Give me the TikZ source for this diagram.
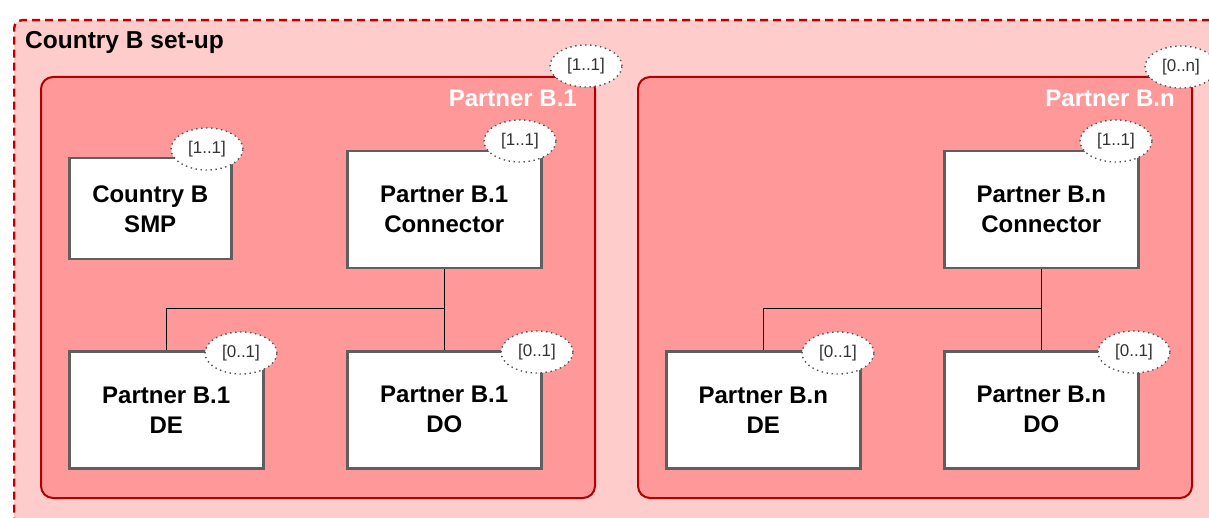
\documentclass[tikz,border=0pt]{standalone}
\usepackage{fontspec}
\setmainfont{Liberation Sans}
\usetikzlibrary{shapes.geometric}
\definecolor{outerfill}{HTML}{FFCCCC}
\definecolor{partnerfill}{HTML}{FF9999}
\definecolor{darkred}{HTML}{B20000}
\definecolor{dashred}{HTML}{C00000}
\definecolor{boxline}{HTML}{5F5F5F}
\definecolor{multtext}{HTML}{333333}
\definecolor{multline}{HTML}{555555}
\begin{document}
\begin{tikzpicture}[x=1pt,y=-1pt,
  outerbox/.style={draw=dashred, fill=outerfill, line width=2.4pt, dash pattern=on 8pt off 5pt, rounded corners=8pt, anchor=north west, inner sep=0pt},
  partner/.style={draw=darkred, fill=partnerfill, line width=2pt, rounded corners=12pt, anchor=north west, inner sep=0pt},
  plabel/.style={text=white, font=\fontsize{24}{28}\selectfont\bfseries, anchor=base east, inner sep=0pt},
  titlelabel/.style={text=black, font=\fontsize{24.5}{28}\selectfont\bfseries, anchor=base west, inner sep=0pt},
  itembox/.style={draw=boxline, fill=white, line width=2.5pt, anchor=north west, align=center, inner sep=0pt, font=\fontsize{24}{30}\selectfont\bfseries},
  mult/.style={ellipse, draw=multline, fill=white, line width=1.4pt, dash pattern=on 1.4pt off 3.6pt, minimum width=72pt, minimum height=42pt, inner sep=0pt, text=multtext, font=\fontsize{17}{20}\selectfont},
  wire/.style={draw=black, line width=1.2pt}
]
\useasboundingbox (0,0) rectangle (1209,518);
\clip (0,0) rectangle (1209,518);
% outer container
\node[outerbox, minimum width=1230pt, minimum height=540pt] (setup) at (13,19) {};
\node[titlelabel] (title) at (25,49) {Country B set-up};
% partner containers
\node[partner, minimum width=554pt, minimum height=421pt] (p1) at (40,76) {};
\node[plabel] (p1label) at (577,107) {Partner B.1};
\node[partner, minimum width=554pt, minimum height=421pt] (pn) at (637,76) {};
\node[plabel] (pnlabel) at (1175,107) {Partner B.n};
% items partner B.1
\node[itembox, minimum width=162pt, minimum height=101pt] (smp) at (68,157) {Country B\\SMP};
\node[itembox, minimum width=194pt, minimum height=117pt] (conn1) at (346,150) {Partner B.1\\Connector};
\node[itembox, minimum width=194pt, minimum height=117pt] (de1) at (68,350) {Partner B.1\\DE};
\node[itembox, minimum width=194pt, minimum height=117pt] (do1) at (346,350) {Partner B.1\\DO};
% items partner B.n
\node[itembox, minimum width=194pt, minimum height=117pt] (connn) at (943,150) {Partner B.n\\Connector};
\node[itembox, minimum width=194pt, minimum height=117pt] (den) at (665,350) {Partner B.n\\DE};
\node[itembox, minimum width=194pt, minimum height=117pt] (don) at (943,350) {Partner B.n\\DO};
% connectors
\draw[wire] (conn1.south) -- ++(0,39) coordinate (j1) -| (de1.north);
\draw[wire] (j1) -- (do1.north);
\draw[wire] (connn.south) -- ++(0,39) coordinate (jn) -| (den.north);
\draw[wire] (jn) -- (don.north);
% multiplicities
\node[mult] (mp1) at (586,66) {[1..1]};
\node[mult] (mpn) at (1181,67) {[0..n]};
\node[mult] (msmp) at (207,149) {[1..1]};
\node[mult] (mconn1) at (520,141) {[1..1]};
\node[mult] (mde1) at (241,353) {[0..1]};
\node[mult] (mdo1) at (537,352) {[0..1]};
\node[mult] (mconnn) at (1116,141) {[1..1]};
\node[mult] (mden) at (838,353) {[0..1]};
\node[mult] (mdon) at (1134,352) {[0..1]};
\end{tikzpicture}
\end{document}
